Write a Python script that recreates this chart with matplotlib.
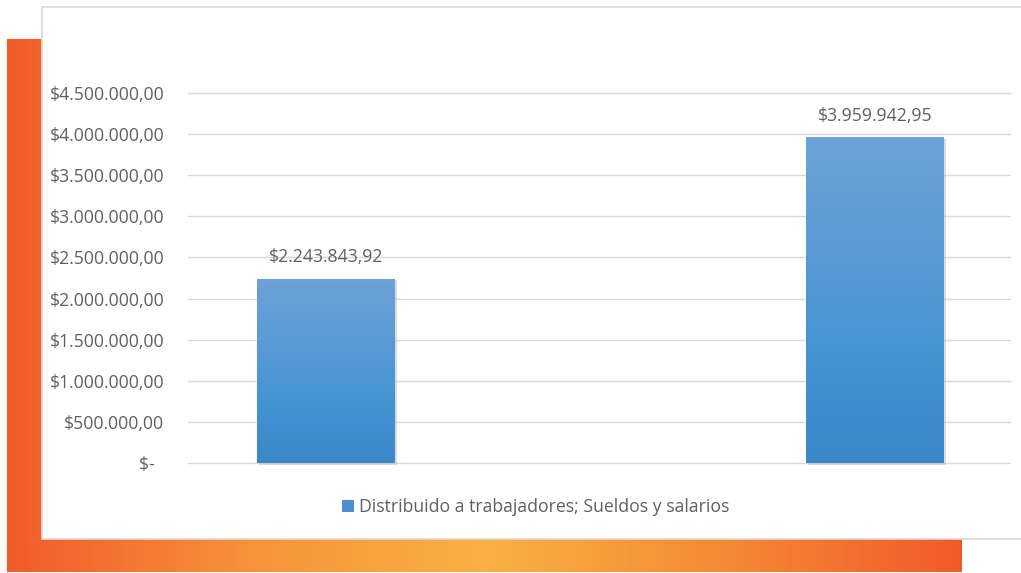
import numpy as np
import matplotlib
matplotlib.use("Agg")
import matplotlib.pyplot as plt
from matplotlib.patches import Rectangle
from matplotlib.colors import LinearSegmentedColormap

categories = ["", " "]
values = [2243843.92, 3959942.95]
value_labels = ["$2.243.843,92", "$3.959.942,95"]
series_name = "Distribuido a trabajadores; Sueldos y salarios"
yticks = [0, 500000, 1000000, 1500000, 2000000, 2500000, 3000000, 3500000, 4000000, 4500000]
ytick_labels = ["$-  ", "$500.000,00", "$1.000.000,00", "$1.500.000,00", "$2.000.000,00",
                "$2.500.000,00", "$3.000.000,00", "$3.500.000,00", "$4.000.000,00", "$4.500.000,00"]

W, H = 1021, 573
plt.rcParams['font.family'] = ['Open Sans', 'DejaVu Sans']
fig = plt.figure(figsize=(W / 100, H / 100), dpi=100)
FS = 12.7
TXT = '#606060'

# background decoration axes in pixel coords (y down)
bg = fig.add_axes([0, 0, 1, 1])
bg.set_xlim(0, W)
bg.set_ylim(H, 0)
bg.axis('off')

left_cmap = LinearSegmentedColormap.from_list('l', ['#F15A29', '#F26430'])
grad = np.linspace(0, 1, 64).reshape(1, -1)
bg.imshow(grad, cmap=left_cmap, extent=[7, 42, 572, 39], aspect='auto', zorder=1)
bot_cmap = LinearSegmentedColormap.from_list('b', ['#F15A29', '#F7923A', '#F9B143', '#F58A35', '#F15A29'])
grad2 = np.linspace(0, 1, 512).reshape(1, -1)
bg.imshow(grad2, cmap=bot_cmap, extent=[7, 961, 572, 539], aspect='auto', zorder=1)
bg.add_patch(Rectangle((42, 7), 990, 532, facecolor='white', edgecolor='#D9D9D9', lw=1.2, zorder=2))

# main axes
x0, x1 = 188, 1010
y0, y1 = 463, 93
ax = fig.add_axes([x0 / W, (H - y0) / H, (x1 - x0) / W, (y0 - y1) / H])
ax.set_zorder(3)
ax.patch.set_alpha(0)
xs = np.arange(len(values))
bw = 0.251
bars = ax.bar(xs, values, width=bw, color='#4A90CF', zorder=3, label=series_name)
ax.set_xlim(-0.251, 1.246)
ax.set_ylim(0, 4500000)

bar_cmap = LinearSegmentedColormap.from_list('bar', ['#3B87C7', '#4494D2', '#5B9BD5', '#6CA3D8'])
for b in bars:
    x, w, h = b.get_x(), b.get_width(), b.get_height()
    ax.add_patch(Rectangle((x + 0.004, -20000), w, h, facecolor='#BBBBBB', alpha=0.5, zorder=2.5, lw=0,
                           clip_on=False))
    img = ax.imshow(np.linspace(0, 1, 256).reshape(-1, 1), cmap=bar_cmap, origin='lower',
                    extent=[x, x + w, 0, h], aspect='auto', zorder=3.5)
    img.set_clip_path(b)

for xi, v, lab in zip(xs, values, value_labels):
    ax.annotate(lab, (xi, v), xytext=(0, 9), textcoords='offset points', ha='center', va='bottom',
                fontsize=FS, color=TXT)

ax.set_yticks(yticks)
ax.set_yticklabels(ytick_labels, fontsize=FS, color=TXT)
ax.tick_params(axis='y', length=0, pad=17)
ax.set_xticks([])
ax.grid(axis='y', color='#D9D9D9', lw=1, zorder=0)
for gl in ax.get_ygridlines():
    gl.set_clip_on(False)
for s in ax.spines.values():
    s.set_visible(False)

fig.legend(handles=[bars], labels=[series_name], loc='center', bbox_to_anchor=(536 / W, (H - 507) / H),
           frameon=False, fontsize=FS, handlelength=0.65, handleheight=0.65, handletextpad=0.3,
           labelcolor=TXT)

fig.savefig('out.png', dpi=100)
